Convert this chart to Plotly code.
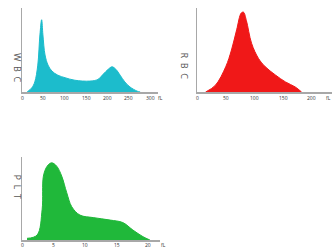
import plotly.graph_objects as go

# WBC histogram (fL vs relative count)
wbc_x = [12, 23, 30, 37, 42, 46, 49, 54, 61, 70, 84, 101, 124, 159, 178, 190, 202, 211, 220, 230, 241, 253, 270, 277]
wbc_y = [0, 5, 12, 32, 68, 86, 68, 44, 32, 25, 20, 17, 14, 13, 15, 21, 27, 30, 27, 20, 12, 6, 1, 0]

# RBC histogram
rbc_x = [15, 32, 50, 60, 69, 77, 81, 86, 95, 107, 119, 137, 154, 171, 182]
rbc_y = [0, 8, 30, 50, 74, 94, 95, 85, 58, 40, 30, 20, 12, 6, 0]

# PLT histogram
plt_x = [0.8, 2.4, 3.2, 3.4, 4.0, 4.7, 5.5, 6.3, 7.1, 7.9, 9.2, 11.3, 14, 16, 17.6, 19.2, 20.3]
plt_y = [2, 6, 37, 77, 89, 93, 89, 77, 57, 40, 30, 27, 24, 21, 12, 4, 0]

wbc_ticks = [0, 50, 100, 150, 200, 250, 300]
rbc_ticks = [0, 50, 100, 150, 200]
plt_ticks = [0, 5, 10, 15, 20]

labels = ["W  B  C", "R  B  C", "P  L  T"]
colors = ["#1cbccc", "#f01818", "#20b83a"]

fig = go.Figure()
fig.add_trace(go.Scatter(x=wbc_x, y=wbc_y, mode="lines", fill="tozeroy", line=dict(color=colors[0], shape="spline", width=1),
                         fillcolor=colors[0], xaxis="x", yaxis="y"))
fig.add_trace(go.Scatter(x=rbc_x, y=rbc_y, mode="lines", fill="tozeroy", line=dict(color=colors[1], shape="spline", width=1),
                         fillcolor=colors[1], xaxis="x2", yaxis="y2"))
fig.add_trace(go.Scatter(x=plt_x, y=plt_y, mode="lines", fill="tozeroy", line=dict(color=colors[2], shape="spline", width=1),
                         fillcolor=colors[2], xaxis="x3", yaxis="y3"))

axcol = "#a8a8a8"
def xax(dom, rng, anchor):
    return dict(domain=dom, range=rng, anchor=anchor, showline=True, linecolor=axcol, linewidth=1.5,
                showgrid=False, zeroline=False, showticklabels=False, ticks="", fixedrange=True)
def yax(dom, anchor):
    return dict(domain=dom, range=[0, 100], anchor=anchor, showline=True, linecolor=axcol, linewidth=1.5,
                showgrid=False, zeroline=False, showticklabels=False, ticks="", fixedrange=True)

top = [1 - 92 / 249, 1 - 8 / 249]
bot = [1 - 240 / 249, 1 - 157 / 249]
fig.update_layout(
    width=336, height=249, margin=dict(l=0, r=0, t=0, b=0),
    paper_bgcolor="white", plot_bgcolor="white", showlegend=False,
    xaxis=xax([22 / 336, 158 / 336], [0, 318.75], "y"),
    yaxis=yax(top, "x"),
    xaxis2=xax([197 / 336, 332 / 336], [0, 235], "y2"),
    yaxis2=yax(top, "x2"),
    xaxis3=xax([22 / 336, 160 / 336], [0, 21.9], "y3"),
    yaxis3=yax(bot, "x3"),
)

ann = []
tickfont = dict(size=5, color="#333")
for xref, ticks, ypix in [("x", wbc_ticks, 98), ("x2", rbc_ticks, 98), ("x3", plt_ticks, 244.5)]:
    for t in ticks:
        ann.append(dict(text=str(t), x=t, xref=xref, y=1 - ypix / 249, yref="paper", showarrow=False,
                        yanchor="middle", font=tickfont))
for lab, (x, y) in zip(labels, [(9, 51), (184, 50), (9, 200)]):
    ann.append(dict(text=lab, x=x / 336, y=1 - y / 249, xref="paper", yref="paper", showarrow=False,
                    textangle=90, font=dict(size=9, color="#555")))
for x, y in [(160, 98), (333, 98), (163, 244.5)]:
    ann.append(dict(text="fL", x=x / 336, y=1 - y / 249, xref="paper", yref="paper", showarrow=False,
                    yanchor="middle", font=tickfont))
fig.update_layout(annotations=ann)

fig.write_html("out.html", config={"displayModeBar": False, "staticPlot": True},
               post_script="document.body.style.margin='0';document.body.style.overflow='hidden';")
